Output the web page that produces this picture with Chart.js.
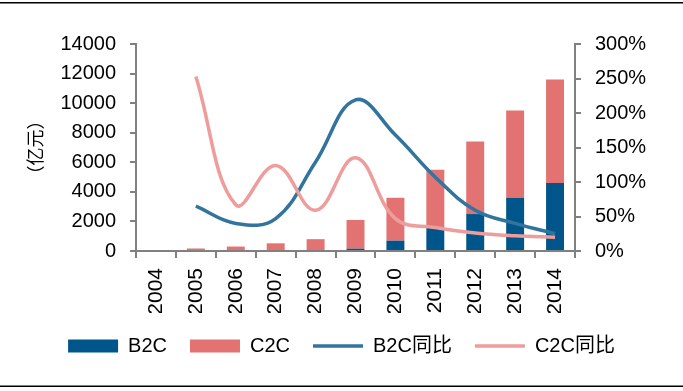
<!DOCTYPE html>
<html>
<head>
<meta charset="utf-8">
<script src="https://cdn.jsdelivr.net/npm/chart.js@4.4.0/dist/chart.umd.min.js"></script>
<style>
  html, body { margin: 0; padding: 0; background: #fff; }
  #wrap { width: 683px; height: 391px; position: relative; }
</style>
</head>
<body>
<div id="wrap"><canvas id="c" width="683" height="391"></canvas></div>
<script>
// --- data ---
const years = ['2004', '2005', '2006', '2007', '2008', '2009', '2010', '2011', '2012', '2013', '2014'];
const b2c = [0, 0, 0, 0, 0, 160, 700, 1600, 2500, 3600, 4600];          // 亿元
const c2c = [0, 170, 300, 520, 800, 1940, 2900, 3900, 4900, 5900, 7000]; // stacked on top of B2C
const b2cYoy = [null, 65, 40, 47, 129, 219, 168, 107, 59, 40, 25];      // %
const c2cYoy = [null, 253, 67, 124, 59, 135, 47, 34, 26, 22, 20];       // %
const leftTicks = { min: 0, max: 14000, step: 2000 };
const rightTicks = { min: 0, max: 300, step: 50 };

const FONT = "Arial, 'Liberation Sans', 'Noto Sans CJK SC', sans-serif";
const AXIS = '#808080';

// top and bottom rules
const rules = {
    id: 'rules',
    afterDraw(chart) {
        const ctx = chart.ctx;
        ctx.save();
        ctx.fillStyle = '#000';
        ctx.fillRect(0, 2, chart.width, 1.5);
        ctx.fillRect(0, 385.5, chart.width, 1.5);
        ctx.restore();
    }
};

new Chart(document.getElementById('c'), {
    data: {
        labels: years,
        datasets: [
            { type: 'bar', label: 'B2C', data: b2c, backgroundColor: '#00568A', yAxisID: 'y',
              order: 2, pointStyle: 'rect', barPercentage: 0.45, categoryPercentage: 1 },
            { type: 'bar', label: 'C2C', data: c2c, backgroundColor: '#E37373', yAxisID: 'y',
              order: 2, pointStyle: 'rect', barPercentage: 0.45, categoryPercentage: 1 },
            { type: 'line', label: 'B2C同比', data: b2cYoy, borderColor: '#31749D', backgroundColor: '#31749D',
              borderWidth: 3.5, yAxisID: 'y1', order: 1, tension: 0.4, pointRadius: 0, pointStyle: 'line' },
            { type: 'line', label: 'C2C同比', data: c2cYoy, borderColor: '#EE9C9C', backgroundColor: '#EE9C9C',
              borderWidth: 3.5, yAxisID: 'y1', order: 0, tension: 0.4, pointRadius: 0, pointStyle: 'line' }
        ]
    },
    options: {
        responsive: false,
        animation: false,
        layout: { padding: { top: 44, left: 0, right: 0, bottom: 25 } },
        plugins: {
            tooltip: { enabled: false },
            legend: {
                position: 'bottom',
                labels: {
                    usePointStyle: true,
                    pointStyleWidth: 50,
                    boxHeight: 13,
                    padding: 23,
                    color: '#000',
                    font: { family: FONT, size: 20 },
                    sort: (a, b) => a.datasetIndex - b.datasetIndex
                }
            }
        },
        scales: {
            x: {
                stacked: true,
                offset: true,
                grid: { offset: true, drawOnChartArea: false, drawTicks: true, tickLength: 7, color: AXIS, lineWidth: 2 },
                border: { display: true, color: AXIS, width: 2 },
                ticks: { color: '#000', font: { family: FONT, size: 21 }, minRotation: 90, maxRotation: 90, padding: 10 },
                afterFit(s) { s.height = 62; }
            },
            y: {
                position: 'left',
                stacked: true,
                min: leftTicks.min, max: leftTicks.max,
                grid: { drawOnChartArea: false, tickLength: 6, color: AXIS, lineWidth: 2 },
                border: { display: true, color: AXIS, width: 2 },
                ticks: { stepSize: leftTicks.step, color: '#000', font: { family: FONT, size: 20 }, padding: 14,
                         callback: v => String(v) },
                title: { display: true, text: '（亿元）', color: '#000',
                         font: { family: "'Noto Sans CJK SC', sans-serif", size: 18 }, padding: { top: 24, bottom: 0 } },
                afterFit(s) { s.width = 136; }
            },
            y1: {
                position: 'right',
                min: rightTicks.min, max: rightTicks.max,
                grid: { drawOnChartArea: false, tickLength: 6, color: AXIS, lineWidth: 2 },
                border: { display: true, color: AXIS, width: 2 },
                ticks: { stepSize: rightTicks.step, color: '#000', font: { family: FONT, size: 20 }, padding: 14,
                         callback: v => v + '%' },
                afterFit(s) { s.width = 108; }
            }
        }
    },
    plugins: [rules]
});
</script>
</body>
</html>
